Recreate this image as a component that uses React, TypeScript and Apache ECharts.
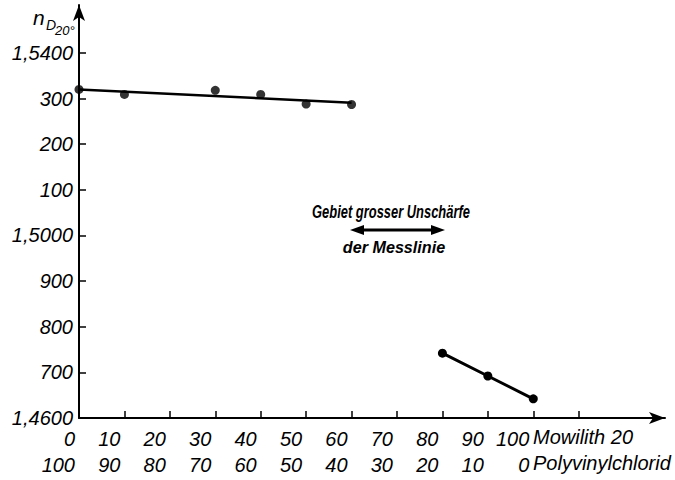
import React, { useEffect, useRef } from "react";
import * as echarts from "echarts";

// x: Mowilith 20 content (%), second row: Polyvinylchlorid (%)
const xTickValues = [0, 10, 20, 30, 40, 50, 60, 70, 80, 90, 100, 110];
const xLabelValues = [0, 10, 20, 30, 40, 50, 60, 70, 80, 90, 100];
const xLabelsTop = ["0", "10", "20", "30", "40", "50", "60", "70", "80", "90", "100"];
const xLabelsBottom = ["100", "90", "80", "70", "60", "50", "40", "30", "20", "10", "0"];

// y: refractive index n_D20°
const yTickValues = [1.46, 1.47, 1.48, 1.49, 1.5, 1.51, 1.52, 1.53, 1.54];
const yLabels = ["1,4600", "700", "800", "900", "1,5000", "100", "200", "300", "1,5400"];

// measured points, upper group
const upperX = [0, 10, 30, 40, 50, 60];
const upperN = [1.532, 1.5309, 1.5318, 1.5309, 1.5288, 1.5287];
// fitted straight line through upper group
const fitX = [0, 60];
const fitN = [1.532, 1.5291];
// lower group
const lowerX = [80, 90, 100];
const lowerN = [1.4742, 1.4692, 1.4642];

const FONT = "'Liberation Sans', Arial, sans-serif";

export default function App() {
  const ref = useRef<HTMLDivElement>(null);

  useEffect(() => {
    if (!ref.current) return;
    const chart = echarts.init(ref.current, null, { renderer: "svg" });

    const option: any = {
      animation: false,
      backgroundColor: "#ffffff",
      grid: { left: 79, right: 10, top: 5, bottom: 62, containLabel: false },
      xAxis: {
        type: "value",
        min: 0,
        max: 129,
        splitLine: { show: false },
        axisLine: {
          show: true,
          lineStyle: { color: "#000", width: 2 },
          symbol: ["none", "arrow"],
          symbolSize: [9, 16],
        },
        axisTick: {
          show: true,
          inside: true,
          length: 7,
          lineStyle: { color: "#000", width: 1.5 },
          customValues: xTickValues,
        },
        axisLabel: {
          show: true,
          customValues: xLabelValues,
          align: "right",
          margin: 8,
          padding: [0, 4, 0, 0],
          lineHeight: 26,
          color: "#000",
          fontFamily: FONT,
          fontStyle: "italic",
          fontSize: 20,
          formatter: (v: number) => {
            const i = xLabelValues.indexOf(Math.round(v));
            return i >= 0 ? xLabelsTop[i] + "\n" + xLabelsBottom[i] : "";
          },
        },
      },
      yAxis: {
        type: "value",
        min: 1.46,
        max: 1.5505,
        splitLine: { show: false },
        axisLine: {
          show: true,
          onZero: false,
          lineStyle: { color: "#000", width: 2 },
          symbol: ["none", "arrow"],
          symbolSize: [9, 16],
        },
        axisTick: {
          show: true,
          inside: true,
          length: 7,
          lineStyle: { color: "#000", width: 1.5 },
          customValues: yTickValues,
        },
        axisLabel: {
          show: true,
          customValues: yTickValues,
          margin: 6,
          color: "#000",
          fontFamily: FONT,
          fontStyle: "italic",
          fontSize: 20,
          formatter: (v: number) => {
            const i = yTickValues.findIndex((t) => Math.abs(t - v) < 1e-6);
            return i >= 0 ? yLabels[i] : "";
          },
        },
      },
      series: [
        {
          type: "line",
          name: "fit",
          data: fitX.map((x, i) => [x, fitN[i]]),
          showSymbol: false,
          symbol: "none",
          lineStyle: { color: "#000", width: 2.5 },
          silent: true,
        },
        {
          type: "scatter",
          name: "upper",
          data: upperX.map((x, i) => [x, upperN[i]]),
          symbol: "circle",
          symbolSize: 9,
          itemStyle: { color: "#000" },
          silent: true,
        },
        {
          type: "line",
          name: "lower",
          data: lowerX.map((x, i) => [x, lowerN[i]]),
          symbol: "circle",
          symbolSize: 9,
          showSymbol: true,
          lineStyle: { color: "#000", width: 3 },
          itemStyle: { color: "#000" },
          silent: true,
        },
      ],
      graphic: [
        // axis name n_D20°
        {
          type: "text",
          left: 33,
          top: 7,
          style: { text: "n", fontFamily: FONT, fontStyle: "italic", fontSize: 21, fill: "#000" },
        },
        {
          type: "text",
          left: 46,
          top: 18,
          style: { text: "D", fontFamily: FONT, fontStyle: "italic", fontSize: 14, fill: "#000" },
        },
        {
          type: "text",
          left: 55,
          top: 24,
          style: { text: "20°", fontFamily: FONT, fontStyle: "italic", fontSize: 13, fill: "#000" },
        },
        // x-axis row names
        {
          type: "text",
          left: 533,
          top: 427,
          style: { text: "Mowilith 20", fontFamily: FONT, fontStyle: "italic", fontSize: 20, fill: "#000" },
        },
        {
          type: "text",
          left: 533,
          top: 453,
          style: { text: "Polyvinylchlorid", fontFamily: FONT, fontStyle: "italic", fontSize: 20, fill: "#000" },
        },
        // annotation
        {
          type: "text",
          x: 391,
          y: 211,
          scaleX: 0.68,
          style: {
            text: "Gebiet grosser Unschärfe",
            fontFamily: FONT,
            fontStyle: "italic",
            fontWeight: "bold",
            fontSize: 19,
            fill: "#000",
            textAlign: "center",
            textVerticalAlign: "middle",
          },
        },
        {
          type: "text",
          x: 394,
          y: 247,
          scaleX: 0.95,
          style: {
            text: "der Messlinie",
            fontFamily: FONT,
            fontStyle: "italic",
            fontWeight: "bold",
            fontSize: 17,
            fill: "#000",
            textAlign: "center",
            textVerticalAlign: "middle",
          },
        },
        {
          type: "line",
          shape: { x1: 358, y1: 230, x2: 437, y2: 230 },
          style: { stroke: "#000", lineWidth: 3 },
        },
        {
          type: "polygon",
          shape: { points: [[350, 230], [364, 225], [364, 235]] },
          style: { fill: "#000" },
        },
        {
          type: "polygon",
          shape: { points: [[445, 230], [431, 225], [431, 235]] },
          style: { fill: "#000" },
        },
      ],
    };

    chart.setOption(option);
    return () => chart.dispose();
  }, []);

  return (
    <div
      ref={ref}
      style={{ position: "absolute", left: 0, top: 0, width: 675, height: 480, background: "#fff" }}
    />
  );
}
